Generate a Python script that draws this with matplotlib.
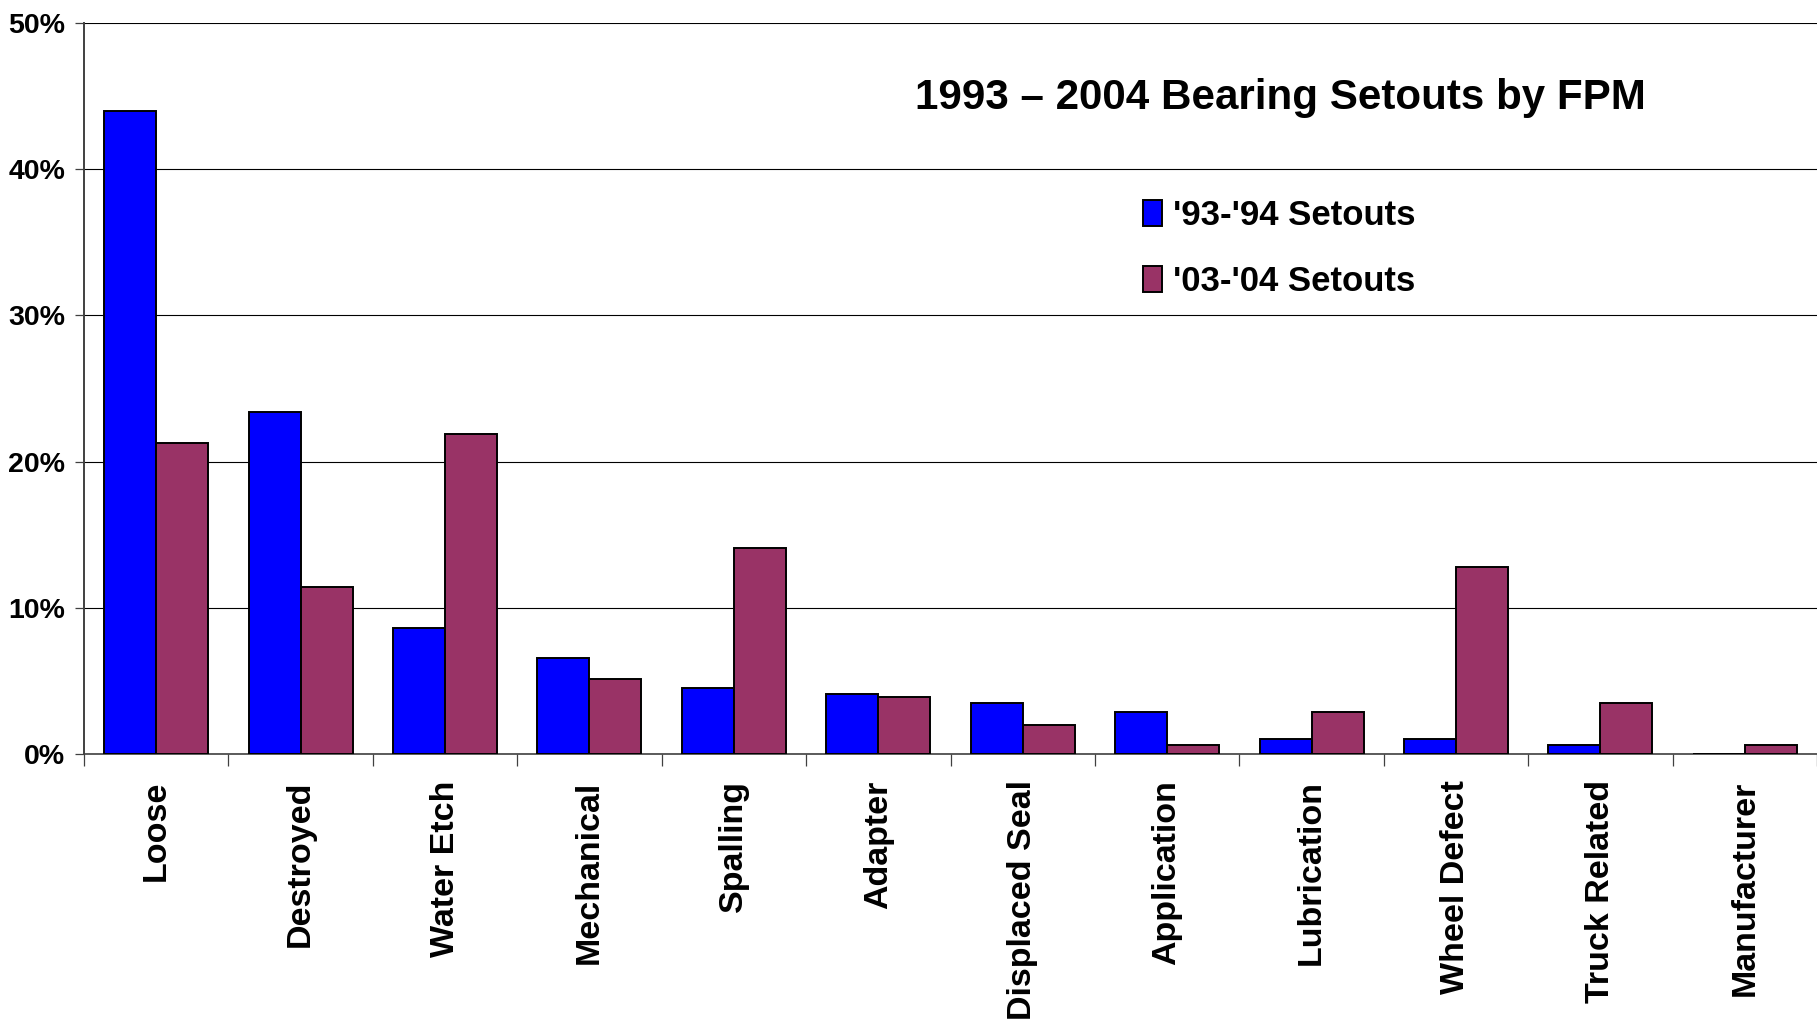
import matplotlib
matplotlib.use("Agg")
import matplotlib.pyplot as plt
from matplotlib.ticker import FixedLocator, PercentFormatter
import numpy as np

plt.rcParams["font.family"] = ["Liberation Sans", "DejaVu Sans"]
plt.rcParams["font.weight"] = "bold"

categories = ["Loose", "Destroyed", "Water Etch", "Mechanical", "Spalling", "Adapter",
              "Displaced Seal", "Application", "Lubrication", "Wheel Defect",
              "Truck Related", "Manufacturer"]
setouts_93_94 = [44.0, 23.4, 8.6, 6.6, 4.5, 4.1, 3.5, 2.9, 1.0, 1.0, 0.6, 0.0]
setouts_03_04 = [21.3, 11.4, 21.9, 5.1, 14.1, 3.9, 2.0, 0.6, 2.9, 12.8, 3.5, 0.6]
series_labels = ["'93-'94 Setouts", "'03-'04 Setouts"]
title = "1993 \u2013 2004 Bearing Setouts by FPM"

BLUE = "#0000FF"
PLUM = "#993366"

fig = plt.figure(figsize=(18.17, 10.26), dpi=100)
ax = fig.add_axes([84 / 1817, 1 - 754 / 1026, 1 - 84 / 1817, (754 - 23) / 1026])

x = np.arange(len(categories))
w = 0.36
ax.bar(x - w / 2, setouts_93_94, w, color=BLUE, edgecolor="black", linewidth=1.4,
       label=series_labels[0], zorder=3)
ax.bar(x + w / 2, setouts_03_04, w, color=PLUM, edgecolor="black", linewidth=1.4,
       label=series_labels[1], zorder=3)

ax.set_xlim(-0.5, len(categories) - 0.5)
ax.set_ylim(0, 50)
ax.set_yticks(np.arange(0, 51, 10))
ax.yaxis.set_major_formatter(PercentFormatter(decimals=0))
ax.yaxis.grid(True, color="black", linewidth=0.8, zorder=0)
ax.set_axisbelow(True)

# labels sit under category centres, ticks mark the boundaries between groups
ax.set_xticks(x)
ax.set_xticklabels(categories, rotation=90, fontsize=24.5, fontweight="bold")
ax.xaxis.set_minor_locator(FixedLocator(np.arange(-0.5, len(categories), 1.0)))
ax.tick_params(axis="x", which="major", length=0, pad=19)
ax.tick_params(axis="x", which="minor", length=8.5, width=0.9, color="#404040",
               direction="out")
ax.tick_params(axis="y", length=6.5, width=0.9, color="#404040", pad=7,
               labelsize=20.5)
for lab in ax.get_yticklabels():
    lab.set_fontweight("bold")

for side in ("top", "right"):
    ax.spines[side].set_visible(False)
ax.spines["left"].set_color("#404040")
ax.spines["left"].set_linewidth(1.4)
ax.spines["bottom"].set_color("#404040")
ax.spines["bottom"].set_linewidth(1.2)

fig.text(1280 / 1817, 1 - 98 / 1026, title, ha="center", va="center",
         fontsize=30.3, fontweight="bold")

fig.legend(loc="upper left", bbox_to_anchor=(1143 / 1817, 1 - 199 / 1026),
           frameon=False, borderpad=0, borderaxespad=0,
           handlelength=0.55, handleheight=0.78, handletextpad=0.3,
           labelspacing=0.95, prop={"weight": "bold", "size": 25})

fig.savefig("out.png", dpi=100)
